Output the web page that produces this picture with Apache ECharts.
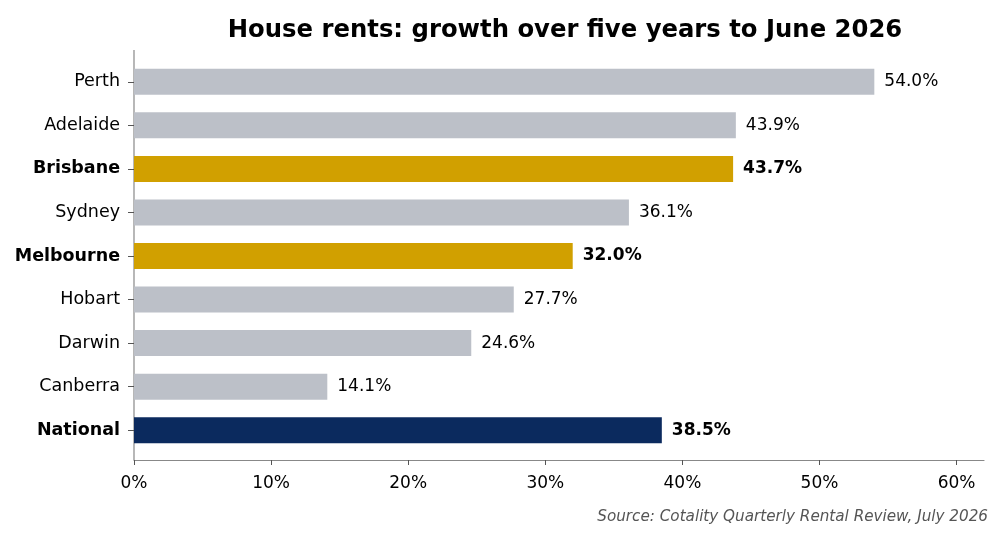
<!DOCTYPE html>
<html>
<head>
<meta charset="utf-8">
<script src="https://cdn.jsdelivr.net/npm/echarts@6/dist/echarts.min.js"></script>
<style>
  html, body { margin: 0; padding: 0; background: #ffffff; }
  #chart { width: 1000px; height: 547px; }
</style>
</head>
<body>
<div id="chart"></div>
<script>
// data
var cities = ['Perth', 'Adelaide', 'Brisbane', 'Sydney', 'Melbourne', 'Hobart', 'Darwin', 'Canberra', 'National'];
var growth = [54.0, 43.9, 43.7, 36.1, 32.0, 27.7, 24.6, 14.1, 38.5];
var kinds = ['other', 'other', 'focus', 'other', 'focus', 'other', 'other', 'other', 'total'];
var xTicks = [0, 10, 20, 30, 40, 50, 60];

var colors = { other: '#bcc0c8', focus: '#d1a000', total: '#0b2a5e' };
var font = 'DejaVu Sans';

var myChart = echarts.init(document.getElementById('chart'));

var barData = growth.map(function (v, i) {
  var bold = kinds[i] !== 'other';
  return {
    value: v,
    itemStyle: { color: colors[kinds[i]] },
    label: { fontWeight: bold ? 'bold' : 'normal' }
  };
});

var option = {
  animation: false,
  title: {
    text: 'House rents: growth over five years to June 2026',
    left: 560,
    top: 14,
    textAlign: 'center',
    textStyle: { fontFamily: font, fontWeight: 'bold', fontSize: 24.3, color: '#000' }
  },
  grid: { left: 134, right: 16, top: 60, bottom: 95, containLabel: false },
  xAxis: {
    type: 'value',
    min: 0,
    max: 62,
    offset: 8,
    axisLine: { show: true, lineStyle: { color: '#888', width: 1.2 } },
    axisTick: { show: true, length: 5, lineStyle: { color: '#555' }, customValues: xTicks },
    axisLabel: {
      customValues: xTicks,
      formatter: function (v) { return v + '%'; },
      fontFamily: font, fontSize: 17, color: '#000', margin: 15
    },
    splitLine: { show: false }
  },
  yAxis: {
    type: 'category',
    data: cities,
    inverse: true,
    axisLine: { show: false },
    axisTick: { show: true, alignWithLabel: true, length: 6, lineStyle: { color: '#555' } },
    axisLabel: {
      fontFamily: font, fontSize: 17.5, color: '#000', margin: 14,
      formatter: function (v, i) {
        return kinds[i] === 'other' ? v : '{b|' + v + '}';
      },
      rich: { b: { fontFamily: font, fontSize: 17.5, fontWeight: 'bold', color: '#000' } }
    }
  },
  series: [{
    type: 'bar',
    data: barData,
    barWidth: 26,
    label: {
      show: true,
      position: 'right',
      distance: 10,
      fontFamily: font,
      fontSize: 17,
      color: '#000',
      formatter: function (p) { return p.value.toFixed(1) + '%'; }
    }
  }],
  graphic: [
    {
      // left spine, running the full height of the axes box
      type: 'line',
      shape: { x1: 134, y1: 50, x2: 134, y2: 460 },
      style: { stroke: '#888', lineWidth: 1.2 }
    },
    {
      type: 'text',
      right: 12,
      top: 510,
      style: {
        text: 'Source: Cotality Quarterly Rental Review, July 2026',
        font: 'italic 15.2px "DejaVu Sans"',
        fill: '#555'
      }
    }
  ]
};

myChart.setOption(option);

window.onresize = function () {
  myChart.resize();
};
</script>
</body>
</html>
